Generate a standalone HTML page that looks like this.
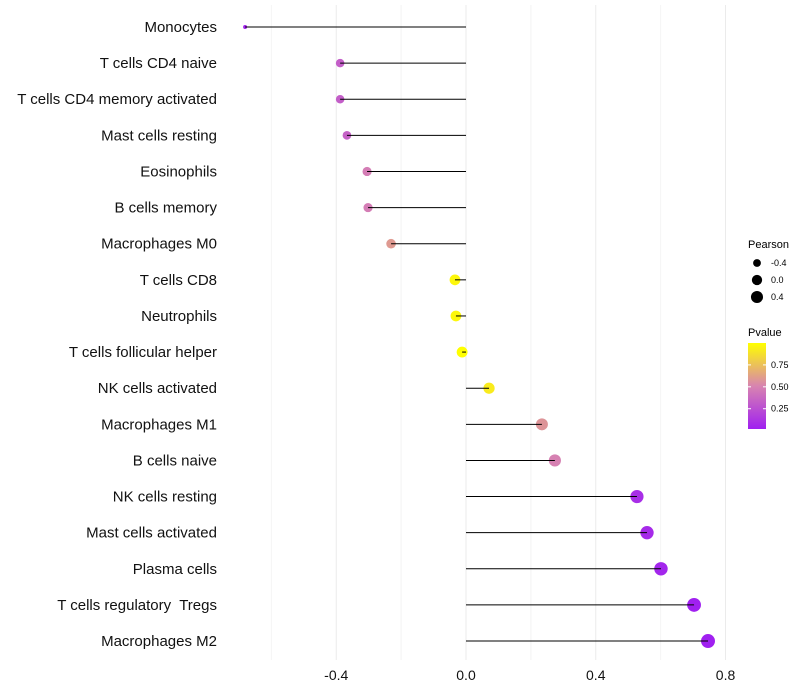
<!DOCTYPE html>
<html><head><meta charset="utf-8"><style>
body{margin:0;background:#fff;font-family:"Liberation Sans",sans-serif}
svg{display:block}
text{white-space:pre}
</style></head><body>
<svg id="chart" width="800" height="700"></svg>
<script>
const categories=["Monocytes","T cells CD4 naive","T cells CD4 memory activated","Mast cells resting","Eosinophils","B cells memory","Macrophages M0","T cells CD8","Neutrophils","T cells follicular helper","NK cells activated","Macrophages M1","B cells naive","NK cells resting","Mast cells activated","Plasma cells","T cells regulatory  Tregs","Macrophages M2"];
const pearson=[-0.681,-0.388,-0.388,-0.367,-0.305,-0.302,-0.231,-0.034,-0.031,-0.012,0.071,0.234,0.274,0.527,0.558,0.601,0.703,0.746];
const pvalue=[0.05,0.33,0.33,0.35,0.48,0.48,0.6,0.97,0.97,1.0,0.92,0.58,0.5,0.1,0.08,0.06,0.03,0.02];
const xTicks=[-0.4,0.0,0.4,0.8];
const xMinor=[-0.6,-0.2,0.2,0.6];
const sizeLegend=[-0.4,0.0,0.4];
const colorTicks=[0.25,0.5,0.75];

const NS="http://www.w3.org/2000/svg";
const svg=document.getElementById('chart');
function el(t,a,p){const e=document.createElementNS(NS,t);for(const k in a)e.setAttribute(k,a[k]);(p||svg).appendChild(e);return e;}
const x=v=>466+v*324.4;
const y=i=>27+i*36.12;
const r=v=>2+Math.sqrt(Math.max(0,(v+0.68)/1.43))*5;
const stops=[[160,32,240],[216,132,176],[255,255,0]];
function col(p){const t=Math.max(0,Math.min(1,(p-0.03)/0.97));
 const s=t<0.5?0:1, u=t<0.5?t*2:(t-0.5)*2;
 const a=stops[s],b=stops[s+1];
 return `rgb(${a.map((c,i)=>Math.round(c+(b[i]-c)*u)).join(',')})`;}
const cy=p=>428-(p-0.03)/0.97*85;

for(const v of xMinor){const g=el('line',{x1:x(v),x2:x(v),y1:5,y2:660,stroke:'#f4f4f4','stroke-width':1});
}
for(const v of xTicks){const g=el('line',{x1:x(v),x2:x(v),y1:5,y2:660,stroke:'#ebebeb','stroke-width':1});

const t=el('text',{x:x(v),y:680,'text-anchor':'middle','font-size':14,fill:'#111'});t.textContent=v.toFixed(1);
}

categories.forEach((c,i)=>{
 const t=el('text',{x:217,y:y(i)+5,'text-anchor':'end','font-size':15,fill:'#111'});t.textContent=c;
 
 const d=el('circle',{cx:x(pearson[i]),cy:y(i),r:r(pearson[i]),fill:col(pvalue[i])});
 
 const l=el('line',{x1:x(0),x2:x(pearson[i]),y1:y(i),y2:y(i),stroke:'#000','stroke-width':1});
 
});

const pt=el('text',{x:748,y:248,'font-size':11,fill:'#000'});pt.textContent='Pearson';

sizeLegend.forEach((v,i)=>{
 const c=el('circle',{cx:757,cy:263+i*17,r:r(v)-0.3,fill:'#000'});
 
 const t=el('text',{x:771,y:266+i*17,'font-size':9,fill:'#000'});t.textContent=v.toFixed(1);
 
});
const ct=el('text',{x:748,y:336,'font-size':11,fill:'#000'});ct.textContent='Pvalue';

const defs=el('defs',{});const lg=el('linearGradient',{id:'g',x1:0,y1:1,x2:0,y2:0},defs);
el('stop',{offset:0,'stop-color':'#a020f0'},lg);el('stop',{offset:0.5,'stop-color':'#d884b0'},lg);el('stop',{offset:1,'stop-color':'#ffff00'},lg);
const bar=el('rect',{x:748,y:343,width:18,height:86,fill:'url(#g)'});

colorTicks.forEach(v=>{
 el('line',{x1:748,x2:751,y1:cy(v),y2:cy(v),stroke:'#fff'});el('line',{x1:763,x2:766,y1:cy(v),y2:cy(v),stroke:'#fff'});
 const t=el('text',{x:771,y:cy(v)+3,'font-size':9,fill:'#000'});t.textContent=v.toFixed(2);
 
});
</script>
</body></html>
